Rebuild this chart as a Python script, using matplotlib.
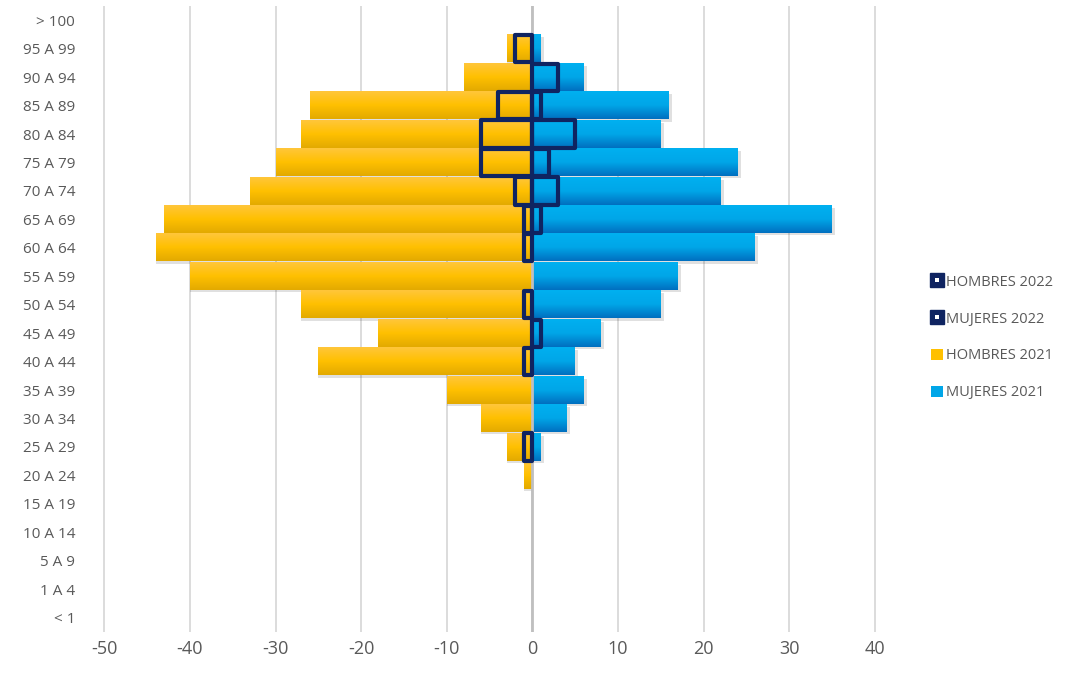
import numpy as np
import matplotlib.pyplot as plt
from matplotlib.colors import LinearSegmentedColormap
from matplotlib.lines import Line2D
from matplotlib.patches import Patch
from matplotlib.legend_handler import HandlerTuple

plt.rcParams['font.family'] = ['Open Sans', 'DejaVu Sans']
plt.rcParams['axes.unicode_minus'] = False

edades = ['< 1', '1 A 4', '5 A 9', '10 A 14', '15 A 19', '20 A 24', '25 A 29',
          '30 A 34', '35 A 39', '40 A 44', '45 A 49', '50 A 54', '55 A 59',
          '60 A 64', '65 A 69', '70 A 74', '75 A 79', '80 A 84', '85 A 89',
          '90 A 94', '95 A 99', '> 100']

hombres_2021 = [0, 0, 0, 0, 0, -1, -3, -6, -10, -25, -18, -27, -40, -44, -43,
                -33, -30, -27, -26, -8, -3, 0]
mujeres_2021 = [0, 0, 0, 0, 0, 0, 1, 4, 6, 5, 8, 15, 17, 26, 35, 22, 24, 15,
                16, 6, 1, 0]
hombres_2022 = [0, 0, 0, 0, 0, 0, -1, 0, 0, -1, 0, -1, 0, -1, -1, -2, -6, -6,
                -4, 0, -2, 0]
mujeres_2022 = [0, 0, 0, 0, 0, 0, 0, 0, 0, 0, 1, 0, 0, 0, 1, 3, 2, 5, 1, 3,
                0, 0]

amarillo = LinearSegmentedColormap.from_list('am', ['#e3aa00', '#ffc000', '#ffc63a'])
azul = LinearSegmentedColormap.from_list('az', ['#0070c0', '#00a6e8', '#00b0f0'])
azul_osc = '#0f2461'
gris = '#595959'

fig = plt.figure(figsize=(10.7, 6.75), dpi=100)
ax = fig.add_axes([0.0935, 0.064, 0.728, 0.927])

y = np.arange(len(edades))
alto = 0.96
grad = np.linspace(0, 1, 50).reshape(-1, 1)

for i in y:
    for val, cmap in ((hombres_2021[i], amarillo), (mujeres_2021[i], azul)):
        if val == 0:
            continue
        x0, x1 = min(0, val), max(0, val)
        # sombra
        ax.barh(i - 0.08, val + (0.35 if val > 0 else 0), height=alto, left=0,
                color='#000000', alpha=0.12, zorder=1, linewidth=0)
        ax.imshow(grad, extent=[x0, x1, i - alto / 2, i + alto / 2],
                  aspect='auto', cmap=cmap, origin='lower', zorder=2)

ax.axvline(0, color='#bfbfbf', linewidth=2, zorder=3)

for serie in (hombres_2022, mujeres_2022):
    v = np.array(serie, dtype=float)
    m = v != 0
    ax.barh(y[m], v[m], height=alto, fill=False, edgecolor=azul_osc,
            linewidth=3, joinstyle='round', zorder=4)

ax.set_xlim(-50.5, 40.5)
ax.set_ylim(-0.5, len(edades) - 0.5)
ax.set_xticks(np.arange(-50, 41, 10))
ax.set_yticks(y)
ax.set_yticklabels(edades)
ax.grid(axis='x', color='#d9d9d9', linewidth=1.3, zorder=0)
ax.set_axisbelow(True)
for s in ax.spines.values():
    s.set_visible(False)
ax.tick_params(axis='y', length=0, labelsize=11, labelcolor=gris, pad=18)
ax.tick_params(axis='x', length=0, labelsize=13, labelcolor=gris, pad=6)

marca_2022 = (Line2D([], [], marker='s', linestyle='', markersize=10,
                     markerfacecolor=azul_osc, markeredgecolor=azul_osc),
              Line2D([], [], marker='s', linestyle='', markersize=2.2,
                     markerfacecolor='white', markeredgewidth=0))
handles = [marca_2022, marca_2022, Patch(facecolor='#ffc000'), Patch(facecolor='#00a6e8')]
labels = ['HOMBRES 2022', 'MUJERES 2022', 'HOMBRES 2021', 'MUJERES 2021']
fig.legend(handles, labels, loc='center left', bbox_to_anchor=(0.858, 0.5),
           frameon=False, fontsize=10.5, labelcolor=gris, labelspacing=1.5,
           handlelength=0.8, handletextpad=0.2, handleheight=0.8,
           handler_map={tuple: HandlerTuple(ndivide=1)})

fig.savefig('out.png', dpi=100)
